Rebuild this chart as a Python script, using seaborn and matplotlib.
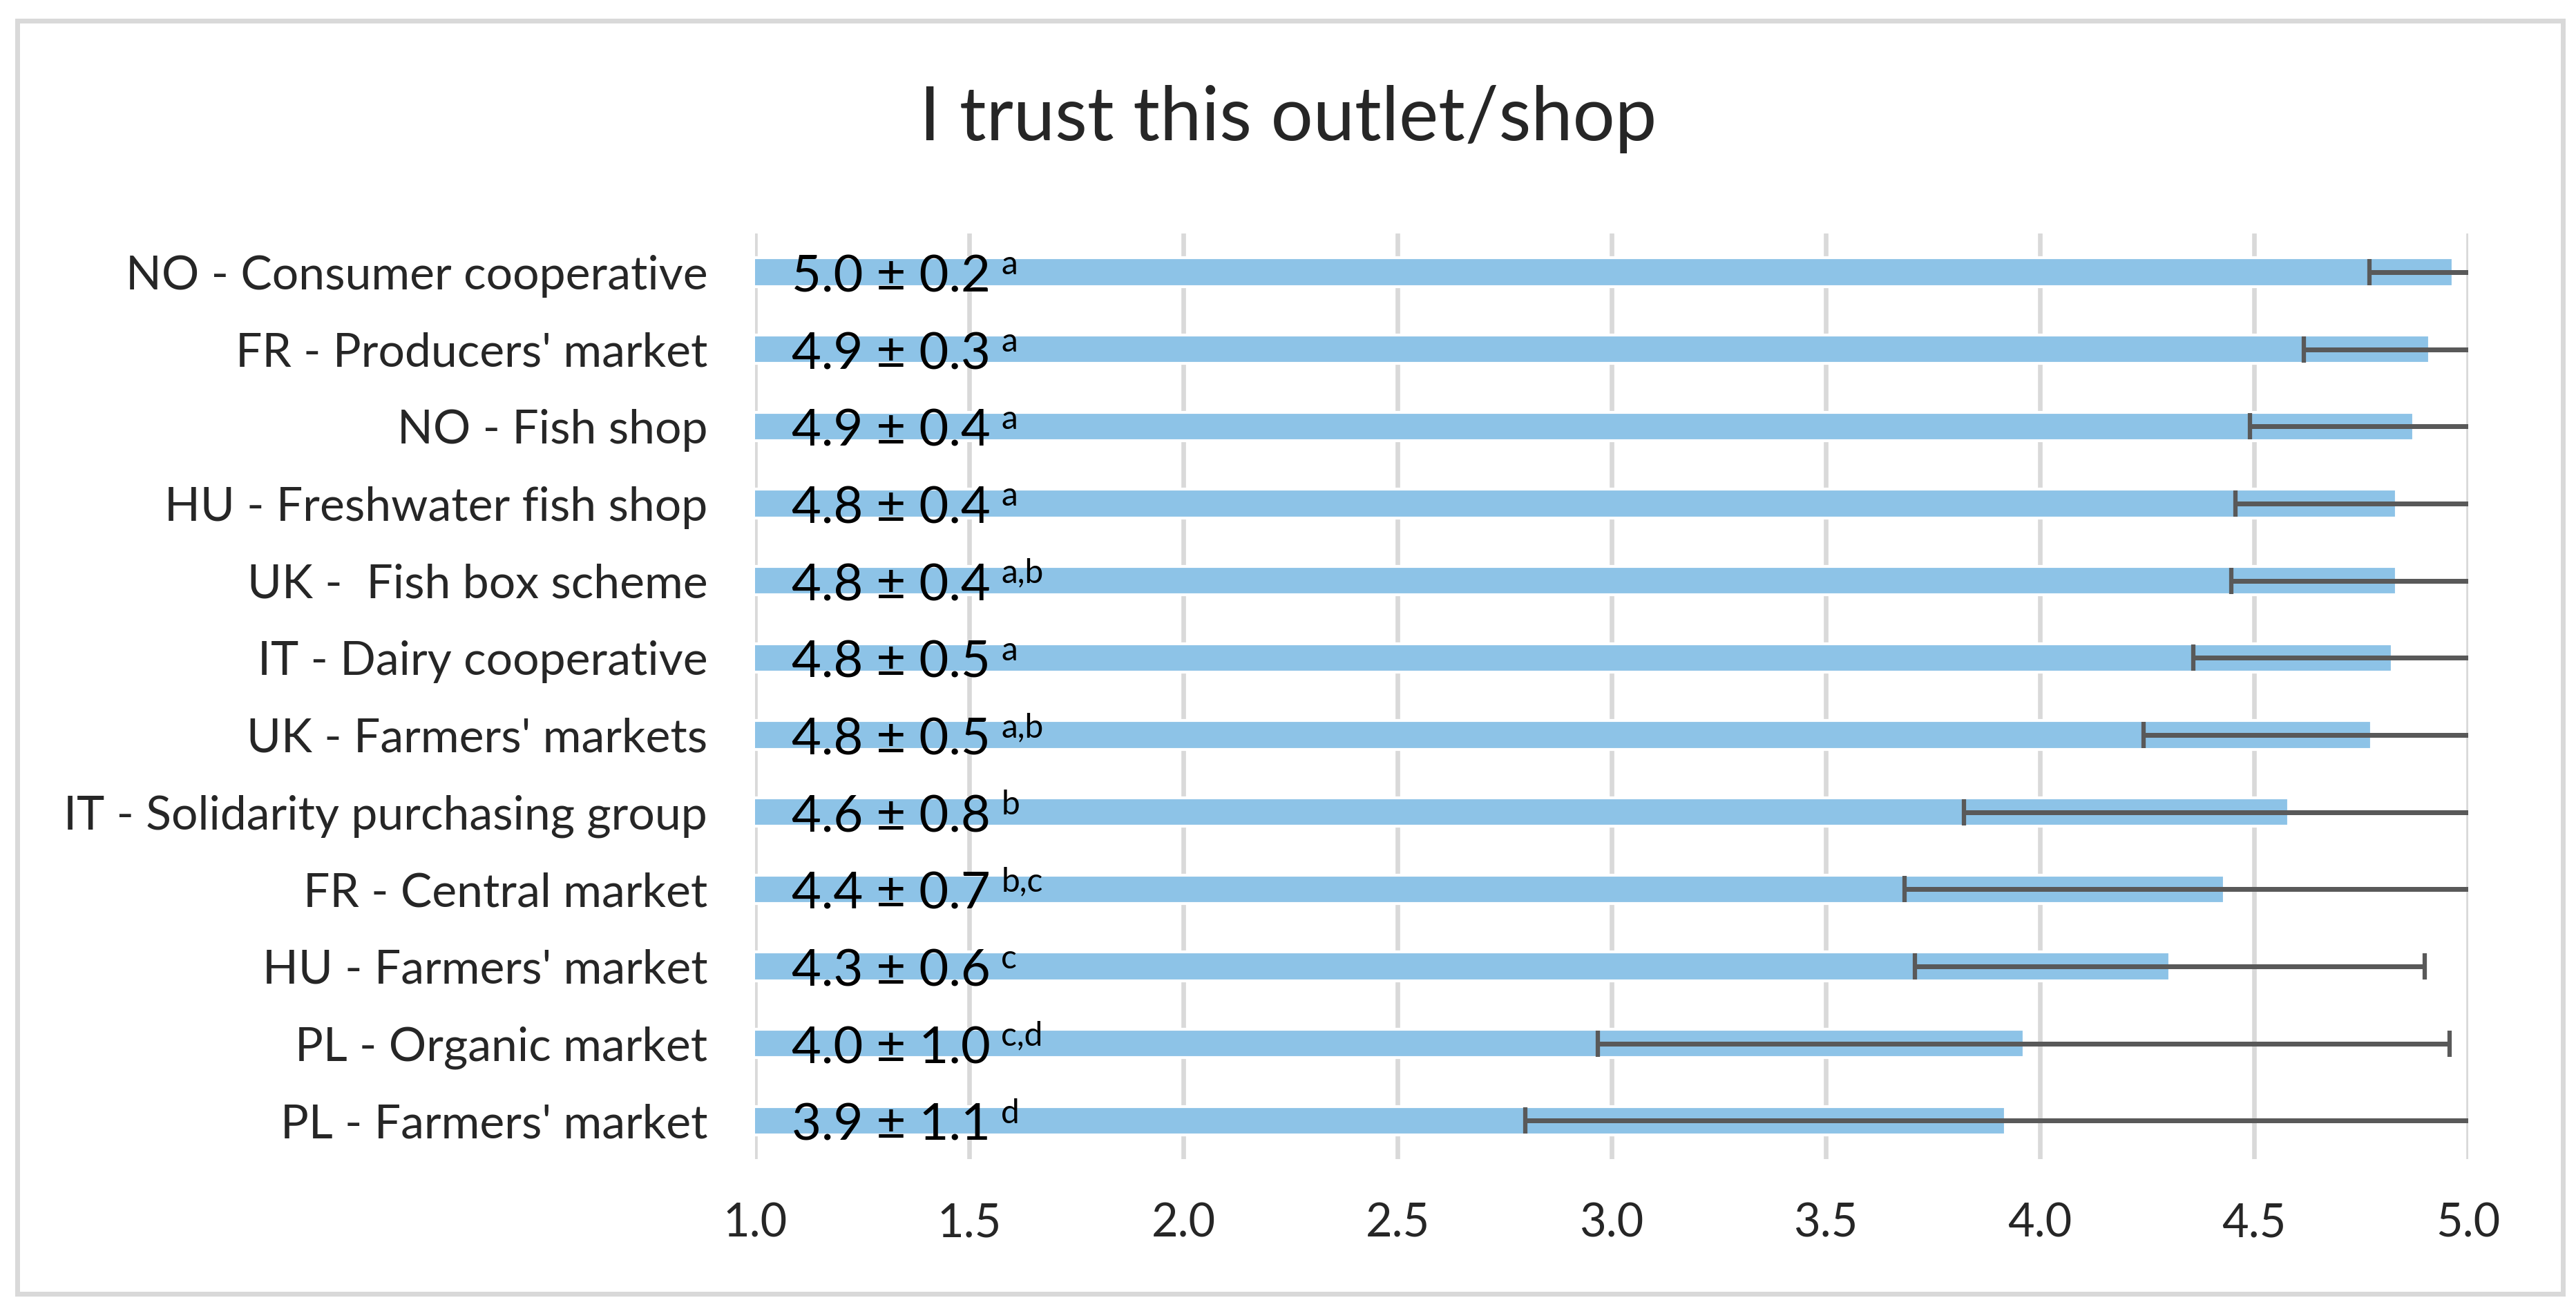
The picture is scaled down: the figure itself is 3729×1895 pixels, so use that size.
import numpy as np
import pandas as pd
import seaborn as sns
import matplotlib
matplotlib.use("Agg")
import matplotlib.pyplot as plt
from matplotlib.patches import Rectangle

# values (mean, sd, letters of the post-hoc groups)
outlets = ["NO - Consumer cooperative", "FR - Producers' market", "NO - Fish shop",
           "HU - Freshwater fish shop", "UK -  Fish box scheme", "IT - Dairy cooperative",
           "UK - Farmers' markets", "IT - Solidarity purchasing group", "FR - Central market",
           "HU - Farmers' market", "PL - Organic market", "PL - Farmers' market"]
means = [4.965, 4.91, 4.873, 4.832, 4.832, 4.823, 4.774, 4.58, 4.431, 4.303, 3.962, 3.919]
sds = [0.196, 0.294, 0.383, 0.376, 0.385, 0.465, 0.532, 0.757, 0.747, 0.595, 0.994, 1.12]
groups = ["a", "a", "a", "a", "a,b", "a", "a,b", "b", "b,c", "c", "c,d", "d"]
xticks = [1.0, 1.5, 2.0, 2.5, 3.0, 3.5, 4.0, 4.5, 5.0]

sns.set_style("white")
plt.rcParams['font.family'] = ['Lato', 'DejaVu Sans']

df = pd.DataFrame({'outlet': outlets, 'mean': means, 'sd': sds})

fig = plt.figure(figsize=(3729 / 300, 1895 / 300), dpi=300)
ax = fig.add_axes([0.2931, 0.1145, 0.9582 - 0.2931, 0.8216 - 0.1145])

sns.barplot(data=df, x='mean', y='outlet', orient='h', color='#8DC3E7',
            width=0.37, saturation=1, ax=ax, errorbar=None)
ax.errorbar(df['mean'], np.arange(len(df)), xerr=df['sd'], fmt='none',
            ecolor='#595959', elinewidth=1.68, capsize=4.6, capthick=1.5)

ax.set_xlim(1.0, 5.0)
ax.set_ylim(len(df) - 0.5, -0.5)
ax.set_xticks(xticks)
ax.set_xticklabels([f"{t:.1f}" for t in xticks], fontsize=16)
ax.tick_params(axis='x', length=0, pad=15)
ax.tick_params(axis='y', length=0, pad=16.5, labelsize=16.3)
ax.set_xlabel("")
ax.set_ylabel("")
ax.set_axisbelow(True)
ax.grid(axis='x', color='#D9D9D9', linewidth=1.6)
ax.grid(axis='y', visible=False)
for s in ax.spines.values():
    s.set_visible(False)

# data labels inside the bars
for i, (m, s, g) in enumerate(zip(means, sds, groups)):
    ax.text(1.0855, i + 0.255, f"{m:.1f} ± {s:.1f}", fontsize=17.8,
            ha='left', va='baseline', color='black')
    ax.text(1.5745, i + 0.03, g, fontsize=11.5, ha='left', va='baseline', color='black')

fig.text(0.5, 1 - 203 / 1895, "I trust this outlet/shop", fontsize=25.9,
         ha='center', va='baseline')

fig.add_artist(Rectangle((0.0067, 0.0116), 0.9949 - 0.0067, 0.9844 - 0.0116,
                         transform=fig.transFigure, fill=False,
                         edgecolor='#D9D9D9', linewidth=1.68))

fig.savefig("out.png", dpi=300, facecolor='white')
